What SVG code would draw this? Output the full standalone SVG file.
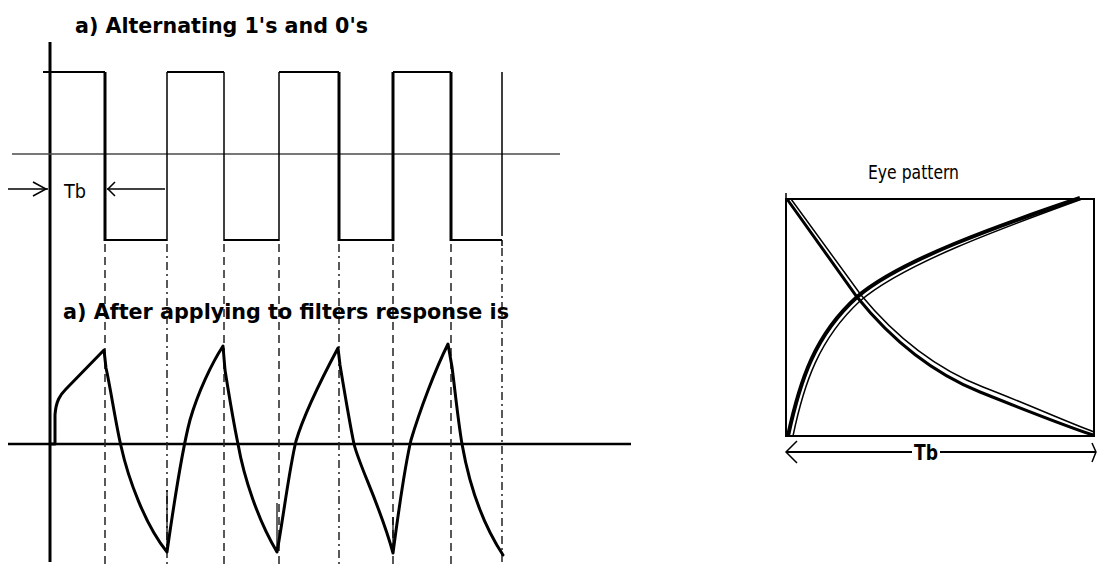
<svg xmlns="http://www.w3.org/2000/svg" width="1098" height="565" viewBox="0 0 1098 565">
<style>
.bg{fill:#ffffff}
.ln{fill:none;stroke:#000;stroke-linecap:butt}
.thin{stroke-width:1.5}
.med{stroke-width:2}
.thick{stroke-width:3}
.grid{fill:none;stroke:#4a4a4a;stroke-width:1.5}
.dash{fill:none;stroke:#222;stroke-width:1.5;stroke-dasharray:8 5}
.dashdot{fill:none;stroke:#222;stroke-width:1.5;stroke-dasharray:8 4 2 4}
.wave{fill:none;stroke:#000;stroke-width:3;stroke-linejoin:round;stroke-linecap:round}
.lbl{font-family:"Liberation Sans Narrow","DejaVu Sans Condensed","Liberation Sans",sans-serif;fill:#000}
.b{font-weight:bold}
</style>
<rect class="bg" x="0" y="0" width="1098" height="565"/>

<g id="title-top">
<text class="lbl b" x="75" y="33" font-size="22" textLength="293" lengthAdjust="spacingAndGlyphs">a) Alternating 1's and 0's</text>
</g>

<g id="axes">
<line class="ln thick" x1="50" y1="42" x2="50" y2="562"/>
<line class="grid" x1="12" y1="154" x2="560" y2="154"/>
<line class="ln" stroke-width="2.5" x1="8" y1="444" x2="631" y2="444"/>
</g>

<g id="square-wave">
<path class="ln med" d="M43,72 H105 M167,72 H224 M279,72 H339 M393,72 H451"/>
<path class="ln med" d="M105,240 H167 M224,240 H279 M339,240 H393 M451,240 H502"/>
<path class="ln thick" d="M105,72 V241 M339,72 V241 M393,72 V241 M451,72 V241"/>
<path class="ln thin" d="M167,72 V241 M224,72 V241 M279,72 V241 M502,72 V236 M502,240 V246"/>
</g>

<g id="tb-marker-top">
<line class="ln thin" x1="8" y1="189" x2="48" y2="189"/>
<polyline class="ln thin" points="33,182 46,189 33,196"/>
<line class="ln thin" x1="107" y1="189" x2="165" y2="189"/>
<polyline class="ln thin" points="115,182 108,189 115,196"/>
<text class="lbl" x="64" y="198" font-size="19" textLength="22" lengthAdjust="spacingAndGlyphs">Tb</text>
</g>

<g id="connectors">
<line class="dash" x1="105" y1="244" x2="105" y2="565"/>
<line class="dashdot" x1="167" y1="244" x2="167" y2="565"/>
<line class="dash" x1="224" y1="244" x2="224" y2="565"/>
<line class="dash" x1="279" y1="244" x2="279" y2="565"/>
<line class="dashdot" x1="339" y1="244" x2="339" y2="565"/>
<line class="dash" x1="393" y1="244" x2="393" y2="565"/>
<line class="dash" x1="451" y1="244" x2="451" y2="565"/>
<line class="dashdot" x1="502" y1="248" x2="502" y2="565"/>
</g>

<g id="title-response">
<text class="lbl b" x="63" y="319" font-size="22" textLength="446" lengthAdjust="spacingAndGlyphs">a) After applying to filters response is</text>
</g>

<g id="response-wave">
<path class="wave" d="M50,444 H55 V415 C56,401 60,395 66,389 L104,350 L106,368 C110,385 116,425 121,446 C128,478 145,525 167,552 M167,552 C173,510 182,450 190,420 C198,392 212,363 223,346 L225,370 C229,395 233,420 238,444 C244,478 258,520 277,552 M277,552 C283,520 289,470 296,441 C304,414 322,378 338,348 L340,365 C345,395 350,425 354,444 C360,468 380,505 393,553 M393,553 C398,515 404,470 411,440 C420,410 435,370 448,344 L452,367 C455,390 458,420 462,444 C468,478 480,520 503,555"/>
<path class="ln" stroke-width="1.2" stroke="#555" d="M167,490 V552 M277,503 V552 M393,517 V553"/>
</g>

<g id="eye-pattern">
<text class="lbl" x="868" y="179" font-size="19" textLength="91" lengthAdjust="spacingAndGlyphs">Eye pattern</text>
<rect class="ln med" x="786" y="199" width="308" height="237"/>
<line class="ln thin" x1="786" y1="193" x2="786" y2="199"/>
<path class="ln" stroke-width="3" d="M787,199 L857,297 C890,338 930,372 980,392 S1060,424 1093,435"/>
<path class="ln" stroke-width="1.5" d="M791,199 L861,295 C894,335 934,368 983,387 S1062,420 1094,432"/>
<path class="ln" stroke-width="4" d="M788,436 C800,380 815,335 857,297 C900,260 1000,225 1080,198"/>
<path class="ln" stroke-width="1.5" d="M793,436 C804,383 819,339 860,301 C903,264 1002,228 1082,199"/>
</g>

<g id="tb-marker-eye">
<line class="ln med" x1="786" y1="452" x2="912" y2="452"/>
<line class="ln med" x1="940" y1="452" x2="1096" y2="452"/>
<polyline class="ln thin" points="797,441 786,452 797,463"/>
<polyline class="ln thin" points="1092,443 1096,452 1092,462"/>
<text class="lbl b" x="914" y="460" font-size="22" textLength="24" lengthAdjust="spacingAndGlyphs">Tb</text>
</g>
</svg>
